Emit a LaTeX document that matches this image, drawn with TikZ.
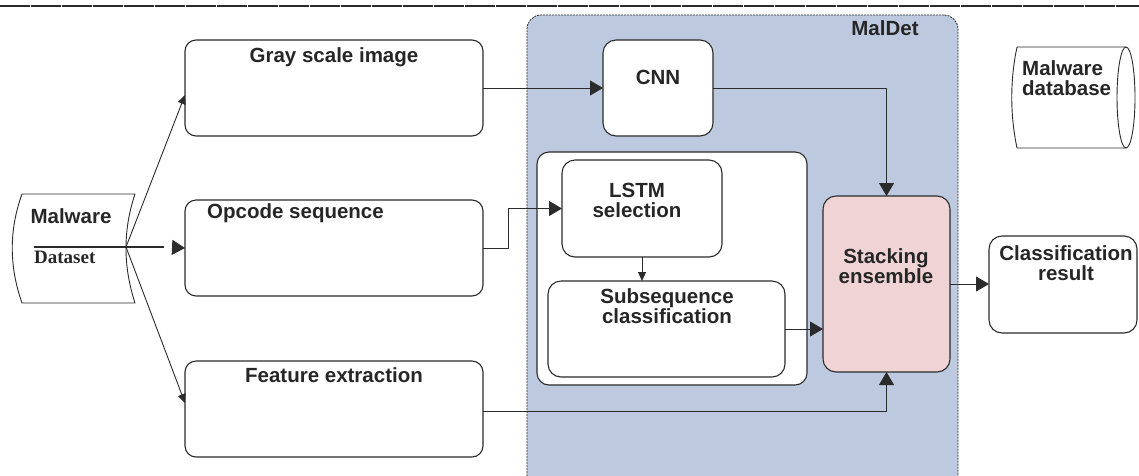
\documentclass[tikz,border=0pt]{standalone}
\usepackage{fontspec}
\setmainfont{Liberation Sans}
\newfontfamily\datasetfont{Liberation Serif}
\usetikzlibrary{arrows.meta,positioning}
\definecolor{maldetblue}{HTML}{BDC9DF}
\definecolor{stackpink}{HTML}{F0D4D5}
\definecolor{flowline}{HTML}{2B2B2B}
\definecolor{labeltext}{HTML}{262626}

\begin{document}
\begin{tikzpicture}[
  x=1pt,
  y=-1pt,
  line join=round,
  box/.style={draw=flowline,line width=1.1pt,rounded corners=11pt,fill=white,outer sep=0pt,inner sep=0pt},
  region/.style={draw=flowline,line width=0.8pt,dash pattern=on 2pt off 1pt,rounded corners=14pt,fill=maldetblue,outer sep=0pt},
  txt/.style={text=labeltext,font=\bfseries\fontsize{20.5}{20}\selectfont,inner sep=0pt,align=center},
  link/.style={draw=flowline,line width=0.9pt,-{Triangle[length=13pt,width=15pt]}},
  smalllink/.style={draw=flowline,line width=0.9pt,-{Triangle[length=9pt,width=8pt]}}
]
  % Match the original frame of the figure.
  \useasboundingbox (0,0) rectangle (1139,475);
  \clip (0,0) rectangle (1139,475);

  % Rule across the top of the page.
  \draw[flowline,line width=1.2pt,dash pattern=on 30pt off 1pt] (0,6) -- (1139,6);

  % MalDet region and its inner LSTM container.
  \node[region,minimum width=431pt,minimum height=475pt] (maldet) at (742.5,252.5) {};
  \node[txt,anchor=north] (maldetT) at (885,20) {MalDet};
  \node[box,rounded corners=12pt,minimum width=270pt,minimum height=233pt] (inner) at (672,268.5) {};

  % Malware dataset card on the left.
  \draw[draw=flowline,line width=0.9pt,fill=white] (22,194) -- (135,194)
    .. controls (123,230) and (123,266) .. (135,303) -- (22,303)
    .. controls (9,266) and (9,230) .. cycle;
  \coordinate (dsout) at (126,247);
  \coordinate (ulstart) at (34,247);
  \coordinate (ulend) at (164,247);
  \node[txt,anchor=north] (malT) at (71,208) {Malware};
  \node[txt,anchor=north west,font=\datasetfont\bfseries\fontsize{19}{19}\selectfont] (dsT) at (34,251) {Dataset};

  % Three preprocessing boxes.
  \node[box,minimum width=298pt,minimum height=96pt] (gray) at (334,88) {};
  \node[box,minimum width=298pt,minimum height=96pt] (op) at (334,248) {};
  \node[box,minimum width=298pt,minimum height=96pt] (feat) at (334,409) {};
  \node[txt,below=7pt of gray.north] (grayT) {Gray scale image};
  \node[txt,anchor=north west] (opT) at (207,203) {Opcode sequence};
  \node[txt,below=6pt of feat.north] (featT) {Feature extraction};

  % Models inside MalDet.
  \node[box,rounded corners=13pt,minimum width=110pt,minimum height=96pt] (cnn) at (658,88) {};
  \node[txt,below=30pt of cnn.north] (cnnT) {CNN};
  \node[box,rounded corners=13pt,minimum width=160pt,minimum height=97pt] (lstm) at (642,208.5) {};
  \node[txt,anchor=north] (lstmT) at (637,183) {LSTM\\selection};
  \node[box,rounded corners=13pt,minimum width=237pt,minimum height=96pt] (subseq) at (666.5,329) {};
  \node[txt,anchor=north] (subseqT) at (667,288) {Subsequence\\classification};
  \node[box,rounded corners=13pt,fill=stackpink,minimum width=127pt,minimum height=176pt] (stack) at (886.5,284) {};
  \node[txt,anchor=north] (stackT) at (886,248) {Stacking\\ensemble};

  % Output and storage on the right.
  \node[box,rounded corners=13pt,minimum width=148pt,minimum height=97pt] (cls) at (1063,284.5) {};
  \node[txt,anchor=north] (clsT) at (1066,245) {Classification\\result};
  \draw[flowline,line width=0.9pt,fill=white] (1126,47) -- (1017,47)
    .. controls (1010,80) and (1010,115) .. (1017,148) -- (1126,148);
  \draw[flowline,line width=0.9pt] (1126,97.5) ellipse [x radius=9pt,y radius=50.5pt];
  \node[txt,anchor=north west,align=left] (dbT) at (1022,60) {Malware\\database};

  % Dataset fans out to the three inputs.
  \draw[flowline,line width=1.3pt] (ulstart) -- (ulend);
  \draw[smalllink] (dsout) -- ([yshift=-7pt]gray.west);
  \draw[link,shorten <=10pt] (ulend) -- (op.west);
  \draw[smalllink] (dsout) -- ([yshift=6pt]feat.west);

  % Flow through MalDet.
  \draw[link] (gray.east) -- (cnn.west);
  \draw[link] (cnn.east) -| (stack.north);
  \draw[link] (op.east) -- ++(25,0) |- (lstm.west);
  \draw[smalllink] (lstm.south) -- (lstm.south |- subseq.north);
  \draw[link] (subseq.east) -- (subseq.east -| stack.west);
  \draw[link] ([yshift=-2pt]feat.east) -| (stack.south);
  \draw[link] (stack.east) -- (stack.east -| cls.west);
\end{tikzpicture}
\end{document}
